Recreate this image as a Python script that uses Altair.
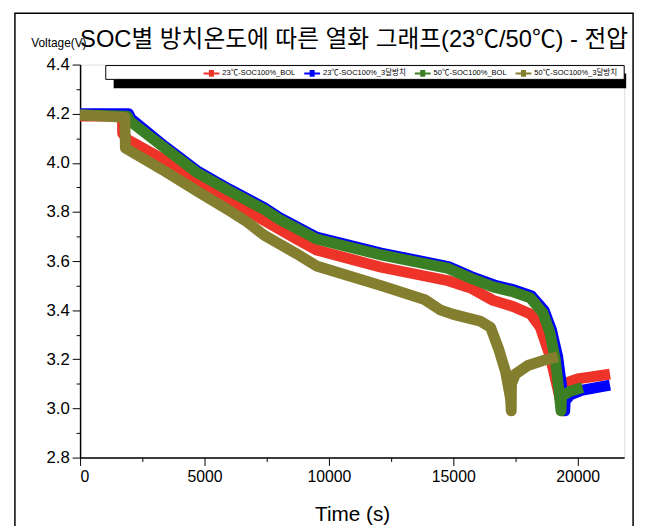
import altair as alt
import pandas as pd

series = ["23℃-SOC100%_BOL", "23℃-SOC100%_3달방치", "50℃-SOC100%_BOL", "50℃-SOC100%_3달방치"]
colors = ["#ee3329", "#0000ff", "#3b7f24", "#847f2e"]

red_t = [0, 1700, 1710, 1900, 3400, 4700, 6000, 7400, 8700, 9500, 12100, 14800, 15700, 16600, 17400, 18100, 18500, 18900, 19200, 19400, 19420, 20000, 21300]
red_v = [4.19, 4.19, 4.12, 4.095, 4.01, 3.93, 3.845, 3.765, 3.69, 3.645, 3.575, 3.52, 3.49, 3.44, 3.415, 3.385, 3.33, 3.21, 3.08, 2.99, 3.10, 3.12, 3.14]

blue_t = [0, 1950, 2050, 3400, 4700, 6000, 7400, 8000, 9500, 12100, 14800, 15700, 16650, 17450, 18150, 18650, 18950, 19200, 19380, 19480, 19500, 19700, 20200, 21300]
blue_v = [4.2, 4.2, 4.18, 4.068, 3.968, 3.893, 3.818, 3.778, 3.698, 3.633, 3.578, 3.538, 3.503, 3.483, 3.458, 3.40, 3.32, 3.21, 3.07, 2.99, 3.03, 3.055, 3.075, 3.095]

green_t = [0, 1900, 2000, 3400, 4700, 6000, 7400, 8000, 9500, 12100, 14800, 15700, 16600, 17400, 18100, 18600, 18880, 19100, 19250, 19330, 19350, 19700, 20200]
green_v = [4.195, 4.19, 4.17, 4.06, 3.96, 3.885, 3.81, 3.77, 3.69, 3.625, 3.57, 3.53, 3.495, 3.475, 3.45, 3.39, 3.31, 3.20, 3.07, 2.99, 3.05, 3.07, 3.085]

olive_t = [0, 1800, 1820, 3400, 4700, 6000, 6700, 7400, 8700, 9500, 12100, 13850, 14500, 15000, 16100, 16500, 16830, 17100, 17300, 17330, 17340, 17500, 18000, 18600, 19200]
olive_v = [4.195, 4.185, 4.06, 3.966, 3.885, 3.805, 3.76, 3.705, 3.63, 3.58, 3.50, 3.443, 3.40, 3.383, 3.355, 3.33, 3.24, 3.15, 3.04, 2.99, 3.10, 3.14, 3.175, 3.195, 3.21]

x_ticks = list(range(0, 20001, 2500))
y_ticks = [round(2.8 + 0.1 * k, 1) for k in range(17)]

FONT = "Liberation Sans Narrow, Liberation Sans, Noto Sans CJK KR"

rows = []
for name, ts, vs in zip(series, [red_t, blue_t, green_t, olive_t], [red_v, blue_v, green_v, olive_v]):
    for i, (t, v) in enumerate(zip(ts, vs)):
        rows.append({"series": name, "t": t, "v": v, "i": i})
df = pd.DataFrame(rows)

base = alt.Chart(df).mark_line(strokeWidth=11, strokeJoin="round", strokeCap="butt").encode(
    x=alt.X("t:Q", scale=alt.Scale(domain=[0, 21870], nice=False, zero=False),
            axis=alt.Axis(values=x_ticks, format="d", grid=False,
                          labelExpr="datum.value % 5000 === 0 ? datum.label : ''",
                          tickSize={"condition": {"test": "datum.value % 5000 === 0", "value": 8}, "value": 4},
                          tickColor="black", domainColor="black", domainWidth=1.5,
                          labelFont=FONT, labelFontSize=16, labelColor="black", labelPadding=3,
                          title="Time (s)", titleFont=FONT, titleFontSize=21, titleFontWeight="normal",
                          titleColor="black", titlePadding=20)),
    y=alt.Y("v:Q", scale=alt.Scale(domain=[2.8, 4.4], nice=False, zero=False),
            axis=alt.Axis(values=y_ticks, format=".1f", grid=False,
                          labelExpr="round(datum.value * 10) % 2 === 0 ? datum.label : ''",
                          tickSize={"condition": {"test": "round(datum.value * 10) % 2 === 0", "value": 8}, "value": 4},
                          tickColor="black", domainColor="black", domainWidth=1.5,
                          labelFont=FONT, labelFontSize=17, labelColor="black", labelPadding=3,
                          title="Voltage(V)", titleAngle=0, titleX=-50, titleY=-22,
                          titleAlign="left", titleBaseline="middle", titleFont=FONT,
                          titleFontSize=12, titleFontWeight="normal", titleColor="black")),
    color=alt.Color("series:N", scale=alt.Scale(domain=series, range=colors),
                    legend=alt.Legend(orient="none", legendX=124, legendY=0, direction="horizontal",
                                      columns=4, title=None, padding=0, gridAlign="none",
                                      symbolType="M-1,0H1M-0.32,-0.3H0.32M-0.32,-0.15H0.32M-0.32,0H0.32M-0.32,0.15H0.32M-0.32,0.3H0.32",
                                      symbolSize=256, symbolStrokeWidth=2,
                                      labelFont=FONT, labelFontSize=7.6, labelColor="black",
                                      labelOffset=2, columnPadding=5, labelLimit=0)),
    order="i:Q",
)

layers = [base.transform_filter(alt.datum.series == s) for s in series]

deco = alt.Data(values=[{"k": 1}])
frame = alt.Chart(deco).mark_rect(filled=False, stroke="black", strokeWidth=1.5).encode(
    x=alt.value(-66), x2=alt.value(560), y=alt.value(-52), y2=alt.value(480))
shadow = alt.Chart(deco).mark_rect(color="black").encode(
    x=alt.value(34), x2=alt.value(553), y=alt.value(9), y2=alt.value(24))
box = alt.Chart(deco).mark_rect(fill="white", stroke="black", strokeWidth=1).encode(
    x=alt.value(26), x2=alt.value(551), y=alt.value(1), y2=alt.value(15))

chart = alt.layer(frame, *layers, shadow, box).properties(
    width=551, height=398,
    title=alt.TitleParams("SOC별 방치온도에 따른 열화 그래프(23℃/50℃) - 전압", font=FONT,
                          fontSize=24, fontWeight="normal", color="black", anchor="middle",
                          offset=0, dy=40, dx=2),
    autosize=alt.AutoSizeParams(type="none"),
    padding={"left": 73, "top": 54, "right": 16, "bottom": 66},
).configure_view(stroke="black", strokeWidth=1.5).configure(background="white")

chart.save("out.html", embed_options={"renderer": "svg", "actions": False})
